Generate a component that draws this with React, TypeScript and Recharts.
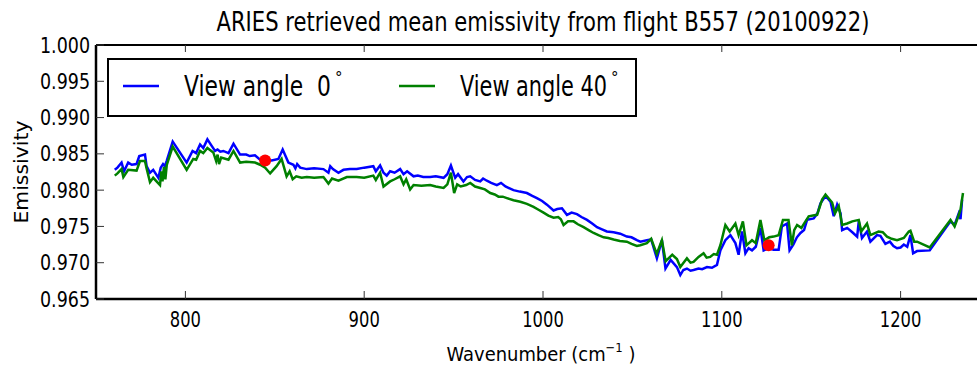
import React from 'react';
import { ComposedChart, Line, Scatter, XAxis, YAxis, Legend } from 'recharts';

const FONT = "'DejaVu Sans', sans-serif";

// View angle 0 (blue)
const blueX = [
  760.5, 762, 764.3, 765.7, 768, 770, 772.7, 774.2, 777.4, 778.3, 780.2, 782, 784.9, 786.2, 787.5, 788.5, 789.5,
  792.9, 800.7, 804, 806, 808.2, 810, 812.3, 814.7, 816.6, 818, 819.5, 821.2, 824.1, 826.9, 830.6, 834, 836,
  838.9, 841.8, 844.6, 848.3, 852, 854.4, 857.6, 860.4, 861.5, 862.5, 864.2, 867.9, 872, 877.2, 880, 881, 882.5,
  885.6, 888.4, 892, 895.8, 900, 905.1, 906.5, 908.9, 910.8, 912.6, 914.5, 917, 920.1, 922, 924, 927.6, 930,
  933, 936.9, 940, 944.4, 946.5, 948.5, 950.9, 952.5, 955.5, 957.5, 959.3, 962, 964.9, 966.5, 968.6, 971,
  974.2, 976.5, 979, 983.5, 987, 991, 994, 996.6, 999.5, 1002.2, 1005.9, 1008, 1010.6, 1013.4, 1016, 1019,
  1021.5, 1024.6, 1027.5, 1030.2, 1033, 1035.7, 1039.5, 1043.2, 1046.9, 1049.5, 1052.5, 1054.4, 1058.1, 1060.5,
  1063.7, 1066.5, 1068.5, 1071.4, 1074.9, 1076.8, 1078.5, 1080.5, 1082.5, 1084.2, 1087, 1089, 1091.7, 1094.5,
  1097.3, 1099.2, 1102, 1104.8, 1107.6, 1109.4, 1111.3, 1113.2, 1115, 1116.9, 1119, 1121.6, 1123.4, 1126.2,
  1129, 1131.8, 1133.6, 1136.5, 1137.9, 1140, 1142, 1144, 1146, 1147.7, 1151.4, 1153.5, 1155.2, 1158, 1160.8,
  1162.6, 1164.5, 1166.4, 1167.3, 1170.1, 1173, 1175.7, 1176.6, 1178.4, 1181.2, 1183.1, 1186.8, 1188.7, 1191.5,
  1194, 1196, 1198, 1200, 1201.8, 1203.7, 1205.5, 1207, 1209.2, 1216.3, 1227.9, 1230.2, 1232.5, 1233.5, 1234.4,
];
const blueY = [
  0.9828, 0.9831, 0.9838, 0.9826, 0.9838, 0.9835, 0.9836, 0.9847, 0.9849, 0.9833, 0.9824, 0.9828, 0.9817, 0.9831, 0.9836, 0.9833, 0.984,
  0.9867, 0.9838, 0.9854, 0.9851, 0.9863, 0.9858, 0.987, 0.9861, 0.9854, 0.9856, 0.9853, 0.9854, 0.9851, 0.9864, 0.9849, 0.9849, 0.9847,
  0.9848, 0.9842, 0.9842, 0.9841, 0.9843, 0.9856, 0.9838, 0.9835, 0.983, 0.9836, 0.9831, 0.9829, 0.983, 0.9829, 0.9824, 0.9833, 0.9829,
  0.9824, 0.9828, 0.9829, 0.9829, 0.9831, 0.9833, 0.9826, 0.9834, 0.9824, 0.982, 0.9826, 0.9824, 0.9829, 0.9822, 0.9826, 0.9819, 0.982,
  0.9818, 0.9818, 0.9819, 0.9817, 0.9822, 0.9834, 0.9817, 0.9822, 0.9812, 0.9818, 0.9819, 0.9814, 0.9812, 0.9816, 0.9813, 0.981,
  0.9807, 0.981, 0.9805, 0.98, 0.9798, 0.9796, 0.9792, 0.9789, 0.9785, 0.978, 0.9772, 0.9774, 0.9775, 0.9766, 0.9769, 0.9767,
  0.9763, 0.9759, 0.9754, 0.9749, 0.9746, 0.9743, 0.9742, 0.974, 0.9736, 0.9735, 0.9731, 0.9729, 0.9731, 0.9732,
  0.9706, 0.9731, 0.9692, 0.9704, 0.9694, 0.9683, 0.969, 0.9692, 0.9689, 0.969, 0.9692, 0.9691, 0.9694, 0.9693,
  0.9697, 0.9717, 0.9731, 0.9738, 0.9727, 0.9711, 0.9743, 0.9713, 0.972, 0.9717, 0.9722, 0.9748, 0.9717, 0.972,
  0.9718, 0.9718, 0.975, 0.9754, 0.9717, 0.9725, 0.9735, 0.9741, 0.9745, 0.9759, 0.9761, 0.9768, 0.9782, 0.9792, 0.9784,
  0.9764, 0.978, 0.9768, 0.9745, 0.9748, 0.9742, 0.9736, 0.9757, 0.9734, 0.9743, 0.9729, 0.9738, 0.9737, 0.9726,
  0.9729, 0.9723, 0.972, 0.9721, 0.9725, 0.9722, 0.9738, 0.9713, 0.9716, 0.9717, 0.9757, 0.9752, 0.9768, 0.976, 0.9787,
];

// View angle 40 (green)
const greenX = [
  760.5, 762, 764.3, 765.3, 768, 772.7, 774.6, 777.4, 778.3, 780.2, 782, 785.8, 786.5, 787.2, 788, 788.8, 789.6,
  792.9, 800.7, 804.4, 806, 808.2, 810, 812.3, 815.6, 817.2, 818, 818.8, 820, 824.1, 826.9, 830.6, 834, 838.9,
  841.8, 844.6, 847.4, 851, 853.8, 856.6, 858.3, 860, 862, 865, 867.9, 872, 877.2, 880, 882, 885.6, 890.3,
  895.8, 900, 905.1, 906.5, 908.9, 910.8, 914.5, 917, 920.1, 922, 923.5, 925.7, 927.6, 932, 936.9, 940, 944.4,
  946.5, 948.5, 950.3, 952, 954, 957, 959.3, 962, 964.9, 967.5, 970.5, 973, 975.1, 977.5, 979.8, 983.5, 987.3,
  991, 994.7, 997.5, 1000.3, 1003, 1005.9, 1008.5, 1010, 1011.5, 1014, 1017.1, 1019.5, 1022.7, 1025.5, 1028.3,
  1031, 1033.9, 1036.5, 1039.5, 1043, 1046.9, 1049.5, 1052.5, 1054.4, 1058.1, 1060.5, 1063.6, 1066.5, 1068.6,
  1072.3, 1074.9, 1076.8, 1080.5, 1082.5, 1084.2, 1087, 1089.8, 1091.5, 1093.5, 1095.5, 1097.3, 1099.2, 1102,
  1104.4, 1107.6, 1109.4, 1111.8, 1113.8, 1116.9, 1119, 1121.6, 1123.8, 1126.5, 1129, 1131.8, 1134.2, 1137.3,
  1139.2, 1140.5, 1142.1, 1144.5, 1146.8, 1148.6, 1151, 1153.3, 1156.1, 1158, 1161.7, 1163.3, 1165.4, 1167.3,
  1170.1, 1173, 1176.6, 1178, 1181.2, 1183.1, 1187.7, 1190, 1192.4, 1195, 1198, 1201.8, 1204.6, 1205.5, 1207.6,
  1209.2, 1216.3, 1227.9, 1230.2, 1232, 1233.5, 1234.9,
];
const greenY = [
  0.982, 0.9823, 0.9829, 0.9818, 0.9828, 0.9827, 0.984, 0.984, 0.983, 0.9811, 0.9817, 0.9807, 0.9826, 0.9812, 0.9832, 0.9815, 0.9835,
  0.986, 0.9828, 0.9843, 0.9842, 0.9854, 0.9851, 0.9858, 0.9852, 0.984, 0.9849, 0.9836, 0.9845, 0.9842, 0.9854, 0.9838, 0.9839, 0.9838,
  0.9835, 0.9831, 0.9823, 0.9833, 0.9843, 0.9819, 0.9826, 0.9815, 0.9819, 0.9817, 0.9818, 0.9817, 0.9818, 0.9809, 0.9816, 0.9813, 0.9818,
  0.9818, 0.9817, 0.982, 0.9814, 0.9824, 0.9805, 0.9812, 0.9815, 0.9819, 0.9808, 0.9815, 0.9801, 0.9807, 0.9806, 0.9807, 0.9805, 0.9803,
  0.9808, 0.9824, 0.9796, 0.9808, 0.9805, 0.9807, 0.981, 0.9805, 0.9803, 0.9801, 0.9796, 0.9794, 0.9791, 0.9791, 0.9789, 0.9786, 0.9784,
  0.9781, 0.9777, 0.9773, 0.9769, 0.9765, 0.9762, 0.9763, 0.976, 0.9752, 0.9757, 0.9757, 0.9753, 0.9749, 0.9745, 0.9741,
  0.9738, 0.9735, 0.9734, 0.9732, 0.973, 0.9729, 0.9726, 0.9723, 0.9724, 0.9727, 0.9733, 0.9712, 0.9731, 0.9702,
  0.9711, 0.9705, 0.9694, 0.9706, 0.97, 0.9701, 0.9708, 0.9713, 0.9707, 0.9708, 0.9712, 0.9711, 0.9724, 0.9752,
  0.9743, 0.9754, 0.9738, 0.9757, 0.9724, 0.9731, 0.9727, 0.9759, 0.9731, 0.9735, 0.9736, 0.9738, 0.9759, 0.9759,
  0.9724, 0.9745, 0.9752, 0.9748, 0.9757, 0.9764, 0.9765, 0.9766, 0.9787, 0.9794, 0.9783, 0.9768, 0.9778, 0.9752,
  0.9754, 0.9757, 0.9759, 0.9743, 0.9754, 0.9738, 0.9743, 0.9742, 0.9736, 0.9733, 0.9731, 0.9734, 0.9743, 0.9744, 0.9729,
  0.9729, 0.9721, 0.9759, 0.975, 0.9762, 0.9773, 0.9796,
];

// red markers
const markX = [844.6, 1126.2];
const markY = [0.9841, 0.9724];

const xTicks = [800, 900, 1000, 1100, 1200];
const yTicks = [0.965, 0.97, 0.975, 0.98, 0.985, 0.99, 0.995, 1.0];
const seriesNames = ['View angle\u00a0 0', 'View angle 40'];
const seriesColors = ['#0000ff', '#008000'];

const TITLE = 'ARIES retrieved mean emissivity from flight B557 (20100922)';

const PLOT_TOP = 45;

const rows = (xs: number[], ys: number[]) => xs.map((x, i) => ({ x, y: ys[i] }));
const blueData = rows(blueX, blueY);
const greenData = rows(greenX, greenY);
const markData = rows(markX, markY);

const YTick = (props: any) => {
  const { x, y, payload } = props;
  return (
    <g>
      <line x1={x + 6} x2={x + 14} y1={y} y2={y} stroke="#333" strokeWidth={1} />
      <text x={x} y={y + 7.5} textAnchor="end" fontSize={21} fontFamily={FONT} fill="#000"
        textLength={50} lengthAdjust="spacingAndGlyphs">
        {Number(payload.value).toFixed(3)}
      </text>
    </g>
  );
};

// bottom ticks, plus the matching inward ticks on the top frame
const XTick = (props: any) => {
  const { x, y, payload } = props;
  const label = String(payload.value);
  return (
    <g>
      <line x1={x} x2={x} y1={y} y2={y - 8} stroke="#333" strokeWidth={1} />
      <line x1={x} x2={x} y1={PLOT_TOP} y2={PLOT_TOP + 7} stroke="#333" strokeWidth={1} />
      <text x={x} y={y + 28} textAnchor="middle" fontSize={21} fontFamily={FONT} fill="#000"
        textLength={label.length * 10.4} lengthAdjust="spacingAndGlyphs">
        {label}
      </text>
    </g>
  );
};

const YLabel = (props: any) => {
  const vb = props.viewBox;
  const cy = vb.y + vb.height / 2;
  return (
    <text x={28} y={cy} transform={`rotate(-90, 28, ${cy})`} textAnchor="middle" fontSize={20}
      fontFamily={FONT} fill="#000" textLength={103} lengthAdjust="spacingAndGlyphs">
      Emissivity
    </text>
  );
};

const XLabel = (props: any) => {
  const vb = props.viewBox;
  return (
    <text x={vb.x + vb.width / 2 - 2} y={361} textAnchor="middle" fontSize={20} fontFamily={FONT} fill="#000"
      textLength={189} lengthAdjust="spacingAndGlyphs">
      Wavenumber (cm<tspan fontSize={13} dy={-9}>−1</tspan><tspan dy={9}> )</tspan>
    </text>
  );
};

const LegendBox = () => (
  <svg width={530} height={59} style={{ display: 'block' }}>
    <rect x={1} y={1} width={528} height={57} fill="#fff" stroke="#000" strokeWidth={2} />
    {seriesNames.map((name, i) => {
      const x0 = i === 0 ? 16 : 292;
      return (
        <g key={name}>
          <line x1={x0} x2={x0 + 36} y1={28} y2={28} stroke={seriesColors[i]} strokeWidth={2.5} />
          <text x={x0 + 61} y={38} fontSize={29} fontFamily={FONT} fill="#000"
            textLength={147} lengthAdjust="spacingAndGlyphs">
            {name}
          </text>
          <text x={x0 + 212} y={25} fontSize={15} fontFamily={FONT} fill="#000">°</text>
        </g>
      );
    })}
  </svg>
);

export default function App() {
  return (
    <div style={{ position: 'absolute', left: 0, top: 0, width: 977, height: 368, overflow: 'hidden', background: '#fff' }}>
      <ComposedChart width={990} height={368} margin={{ top: 44, right: 0, bottom: 0, left: 0 }}>
        <text x={543} y={31} textAnchor="middle" fontSize={26} fontFamily={FONT} fill="#000"
          textLength={653} lengthAdjust="spacingAndGlyphs">
          {TITLE}
        </text>
        <XAxis
          xAxisId="top"
          orientation="top"
          type="number"
          dataKey="x"
          domain={[750, 1250]}
          ticks={xTicks}
          height={1}
          tick={false}
          tickLine={false}
          axisLine={{ stroke: '#000', strokeWidth: 2 }}
          allowDataOverflow
        />
        <XAxis
          type="number"
          dataKey="x"
          domain={[750, 1250]}
          ticks={xTicks}
          height={69}
          tickSize={0}
          tickMargin={0}
          tickLine={false}
          tick={<XTick />}
          axisLine={{ stroke: '#000', strokeWidth: 2.5 }}
          allowDataOverflow
          label={<XLabel />}
        />
        <YAxis
          type="number"
          dataKey="y"
          domain={[0.965, 1.0]}
          ticks={yTicks}
          width={96}
          tickSize={0}
          tickMargin={6}
          tickLine={false}
          tick={<YTick />}
          axisLine={{ stroke: '#000', strokeWidth: 2.5 }}
          allowDataOverflow
          label={<YLabel />}
        />
        <Legend
          layout="horizontal"
          verticalAlign="middle"
          align="center"
          content={<LegendBox />}
          wrapperStyle={{ left: 107, top: 58, width: 530, height: 59 }}
        />
        <Line data={blueData} dataKey="y" name={seriesNames[0]} type="linear" stroke={seriesColors[0]}
          strokeWidth={2.5} dot={false} isAnimationActive={false} />
        <Line data={greenData} dataKey="y" name={seriesNames[1]} type="linear" stroke={seriesColors[1]}
          strokeWidth={2.5} dot={false} isAnimationActive={false} />
        <Scatter data={markData} dataKey="y" fill="#ff0000" isAnimationActive={false}
          shape={(p: any) => <circle cx={p.cx} cy={p.cy} r={6} fill="#ff0000" />} />
      </ComposedChart>
    </div>
  );
}
